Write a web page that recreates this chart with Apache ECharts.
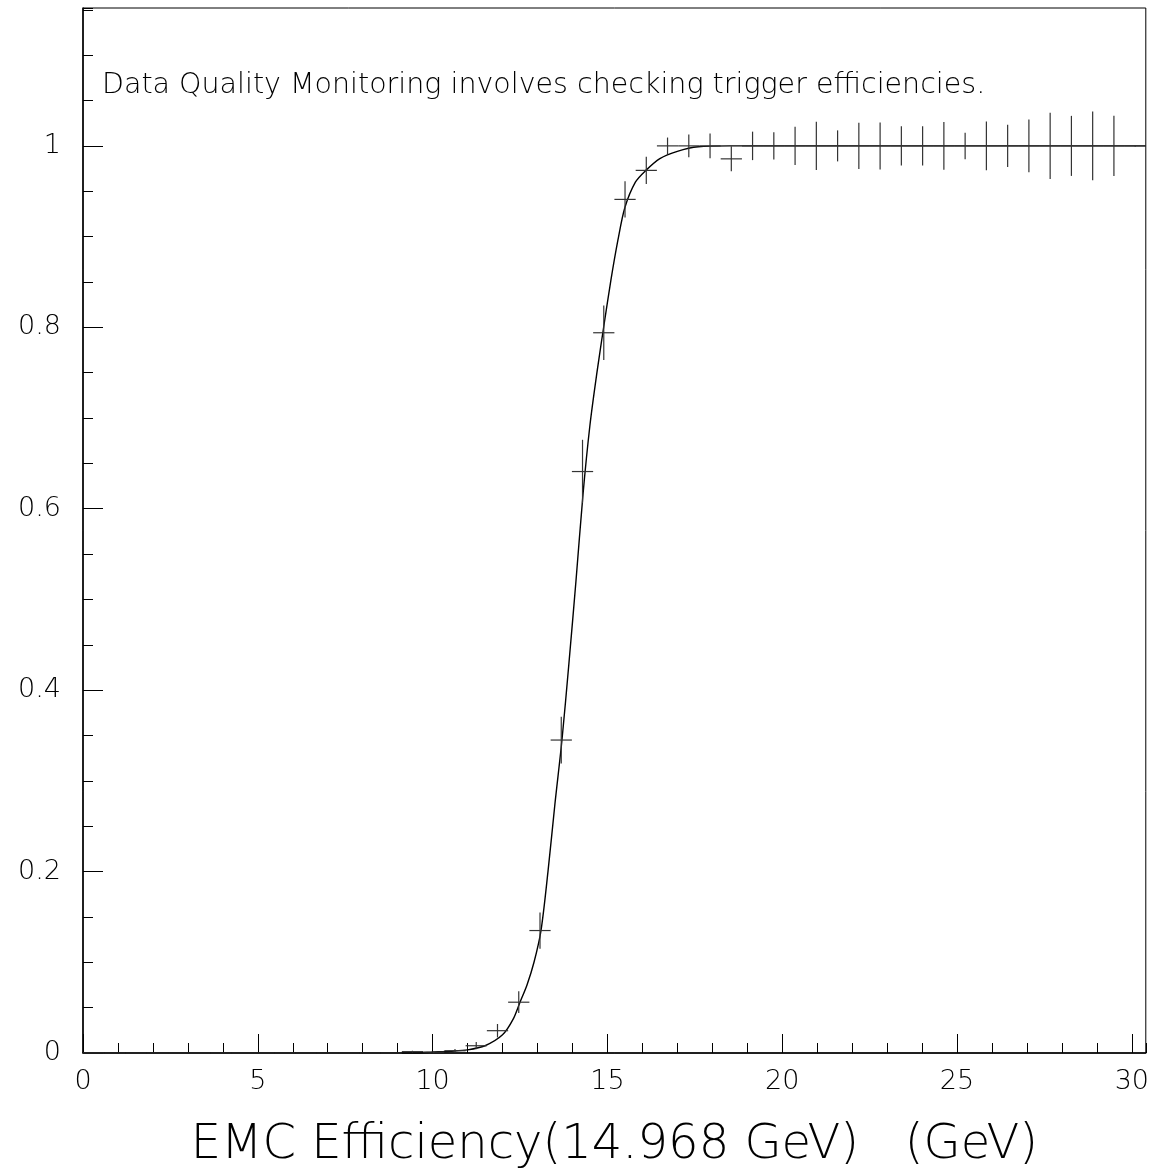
<!DOCTYPE html>
<html>
<head>
<meta charset="utf-8">
<title>EMC Efficiency</title>
<script src="https://cdn.jsdelivr.net/npm/echarts@6/dist/echarts.min.js"></script>
<style>
  html, body { margin: 0; padding: 0; background: #fff; overflow: hidden; }
  #chart { width: 1152px; height: 1175px; }
</style>
</head>
<body>
<div id="chart"></div>
<script>
// histogram bins (centres, GeV) - 50 bins over 0..30.4
var binCenters = [0.304, 0.912, 1.52, 2.128, 2.736, 3.344, 3.952, 4.56, 5.168, 5.776,
  6.384, 6.992, 7.6, 8.208, 8.816, 9.424, 10.032, 10.64, 11.248, 11.856,
  12.464, 13.072, 13.68, 14.288, 14.896, 15.504, 16.112, 16.72, 17.328, 17.936,
  18.544, 19.152, 19.76, 20.368, 20.976, 21.584, 22.192, 22.8, 23.408, 24.016,
  24.624, 25.232, 25.84, 26.448, 27.056, 27.664, 28.272, 28.88, 29.488, 30.096]
var binHalfWidth = 0.304

// measured efficiency per bin
var efficiency = [0, 0, 0, 0, 0, 0, 0, 0, 0, 0,
  0, 0, 0, 0, 0, 0.0015, 0.001, 0.0025, 0.008, 0.0246,
  0.056, 0.135, 0.345, 0.641, 0.794, 0.941, 0.973, 1, 1, 1,
  0.9857, 1, 1, 1, 1, 1, 1, 1, 1, 1,
  1, 1, 1, 1, 1, 1, 1, 1, 1, 1]

// error on efficiency per bin
var effError = [0, 0, 0, 0, 0, 0, 0, 0, 0, 0,
  0, 0, 0, 0, 0, 0.001, 0.001, 0.002, 0.004, 0.0074,
  0.012, 0.02, 0.0258, 0.035, 0.03, 0.02, 0.015, 0.0092, 0.0125, 0.0136,
  0.0138, 0.0157, 0.0151, 0.0212, 0.0267, 0.0171, 0.0256, 0.0259, 0.0217, 0.0217,
  0.0262, 0.0146, 0.027, 0.0232, 0.029, 0.0366, 0.0331, 0.0379, 0.0331, 0.001]

// fit curve
var fitX = [0, 9.5, 10, 10.5, 11, 11.5, 12, 12.3, 12.5, 12.7, 12.9, 13.1, 13.3, 13.5, 13.7,
  13.9, 14.1, 14.3, 14.5, 14.7, 14.9, 15.1, 15.3, 15.5, 15.8, 16.1, 16.5, 17, 17.6, 18.5, 30.4]
var fitY = [0, 0, 0.001, 0.002, 0.0035, 0.008, 0.02, 0.037, 0.056, 0.075, 0.1, 0.135, 0.2, 0.275, 0.345,
  0.43, 0.52, 0.615, 0.692, 0.75, 0.802, 0.852, 0.896, 0.932, 0.96, 0.973, 0.986, 0.994, 0.999, 1, 1]

var xRange = [0, 30.4]
var yRange = [0, 1.152]

var titleText = 'Data Quality Monitoring involves checking trigger efficiencies.'
var xName = 'EMC Efficiency(14.968 GeV)   (GeV)'

var FONT = 'DejaVu Sans'

var chart = echarts.init(document.getElementById('chart'))

var points = binCenters.map(function (x, i) {
  return [x, efficiency[i], effError[i]]
})
var fit = fitX.map(function (x, i) {
  return [x, fitY[i]]
})

function renderCross(params, api) {
  var x = api.value(0)
  var y = api.value(1)
  var e = api.value(2)
  var left = api.coord([x - binHalfWidth, y])
  var right = api.coord([x + binHalfWidth, y])
  var top = api.coord([x, y + e])
  var bottom = api.coord([x, y - e])
  var style = { stroke: '#333', lineWidth: 1.2 }
  return {
    type: 'group',
    children: [
      { type: 'line', shape: { x1: left[0], y1: left[1], x2: right[0], y2: right[1] }, style: style },
      { type: 'line', shape: { x1: top[0], y1: top[1], x2: bottom[0], y2: bottom[1] }, style: style }
    ]
  }
}

chart.setOption({
  backgroundColor: '#fff',
  animation: false,
  title: {
    text: titleText,
    left: 97,
    top: 66,
    textStyle: { fontFamily: FONT, fontWeight: 200, fontSize: 28.5, color: '#000' }
  },
  grid: {
    left: 83,
    right: 2,
    top: 8,
    bottom: 122,
    show: true,
    borderColor: '#000',
    borderWidth: 1,
    backgroundColor: 'transparent'
  },
  xAxis: [
    {
      type: 'value',
      min: xRange[0],
      max: xRange[1],
      interval: 5,
      name: xName,
      nameLocation: 'middle',
      nameGap: 69,
      nameTextStyle: { fontFamily: FONT, fontWeight: 200, fontSize: 48, color: '#000' },
      axisLine: { show: true, lineStyle: { color: '#000', width: 1.5 } },
      axisTick: { show: true, inside: true, length: 19, lineStyle: { color: '#000' } },
      axisLabel: {
        showMaxLabel: false,
        margin: 15,
        fontFamily: FONT,
        fontWeight: 200,
        fontSize: 27,
        color: '#000'
      },
      splitLine: { show: false }
    },
    {
      // minor ticks
      type: 'value',
      position: 'bottom',
      min: xRange[0],
      max: xRange[1],
      interval: 1,
      axisLine: { show: false },
      axisTick: { show: true, inside: true, length: 10, lineStyle: { color: '#000' } },
      axisLabel: { show: false },
      splitLine: { show: false }
    }
  ],
  yAxis: [
    {
      type: 'value',
      min: yRange[0],
      max: yRange[1],
      interval: 0.2,
      axisLine: { show: true, lineStyle: { color: '#000', width: 1.5 } },
      axisTick: { show: true, inside: true, length: 20, lineStyle: { color: '#000' } },
      axisLabel: {
        showMaxLabel: false,
        margin: 22,
        fontFamily: FONT,
        fontWeight: 200,
        fontSize: 27,
        color: '#000'
      },
      splitLine: { show: false }
    },
    {
      // minor ticks
      type: 'value',
      position: 'left',
      min: yRange[0],
      max: yRange[1],
      interval: 0.05,
      axisLine: { show: false },
      axisTick: { show: true, inside: true, length: 10, lineStyle: { color: '#000' } },
      axisLabel: { show: false },
      splitLine: { show: false }
    }
  ],
  series: [
    {
      name: 'fit',
      type: 'line',
      data: fit,
      smooth: 0.3,
      showSymbol: false,
      lineStyle: { color: '#000', width: 1.4 },
      z: 3
    },
    {
      name: 'efficiency',
      type: 'custom',
      data: points,
      renderItem: renderCross,
      encode: { x: 0, y: 1 },
      z: 4
    }
  ]
})
</script>
</body>
</html>
